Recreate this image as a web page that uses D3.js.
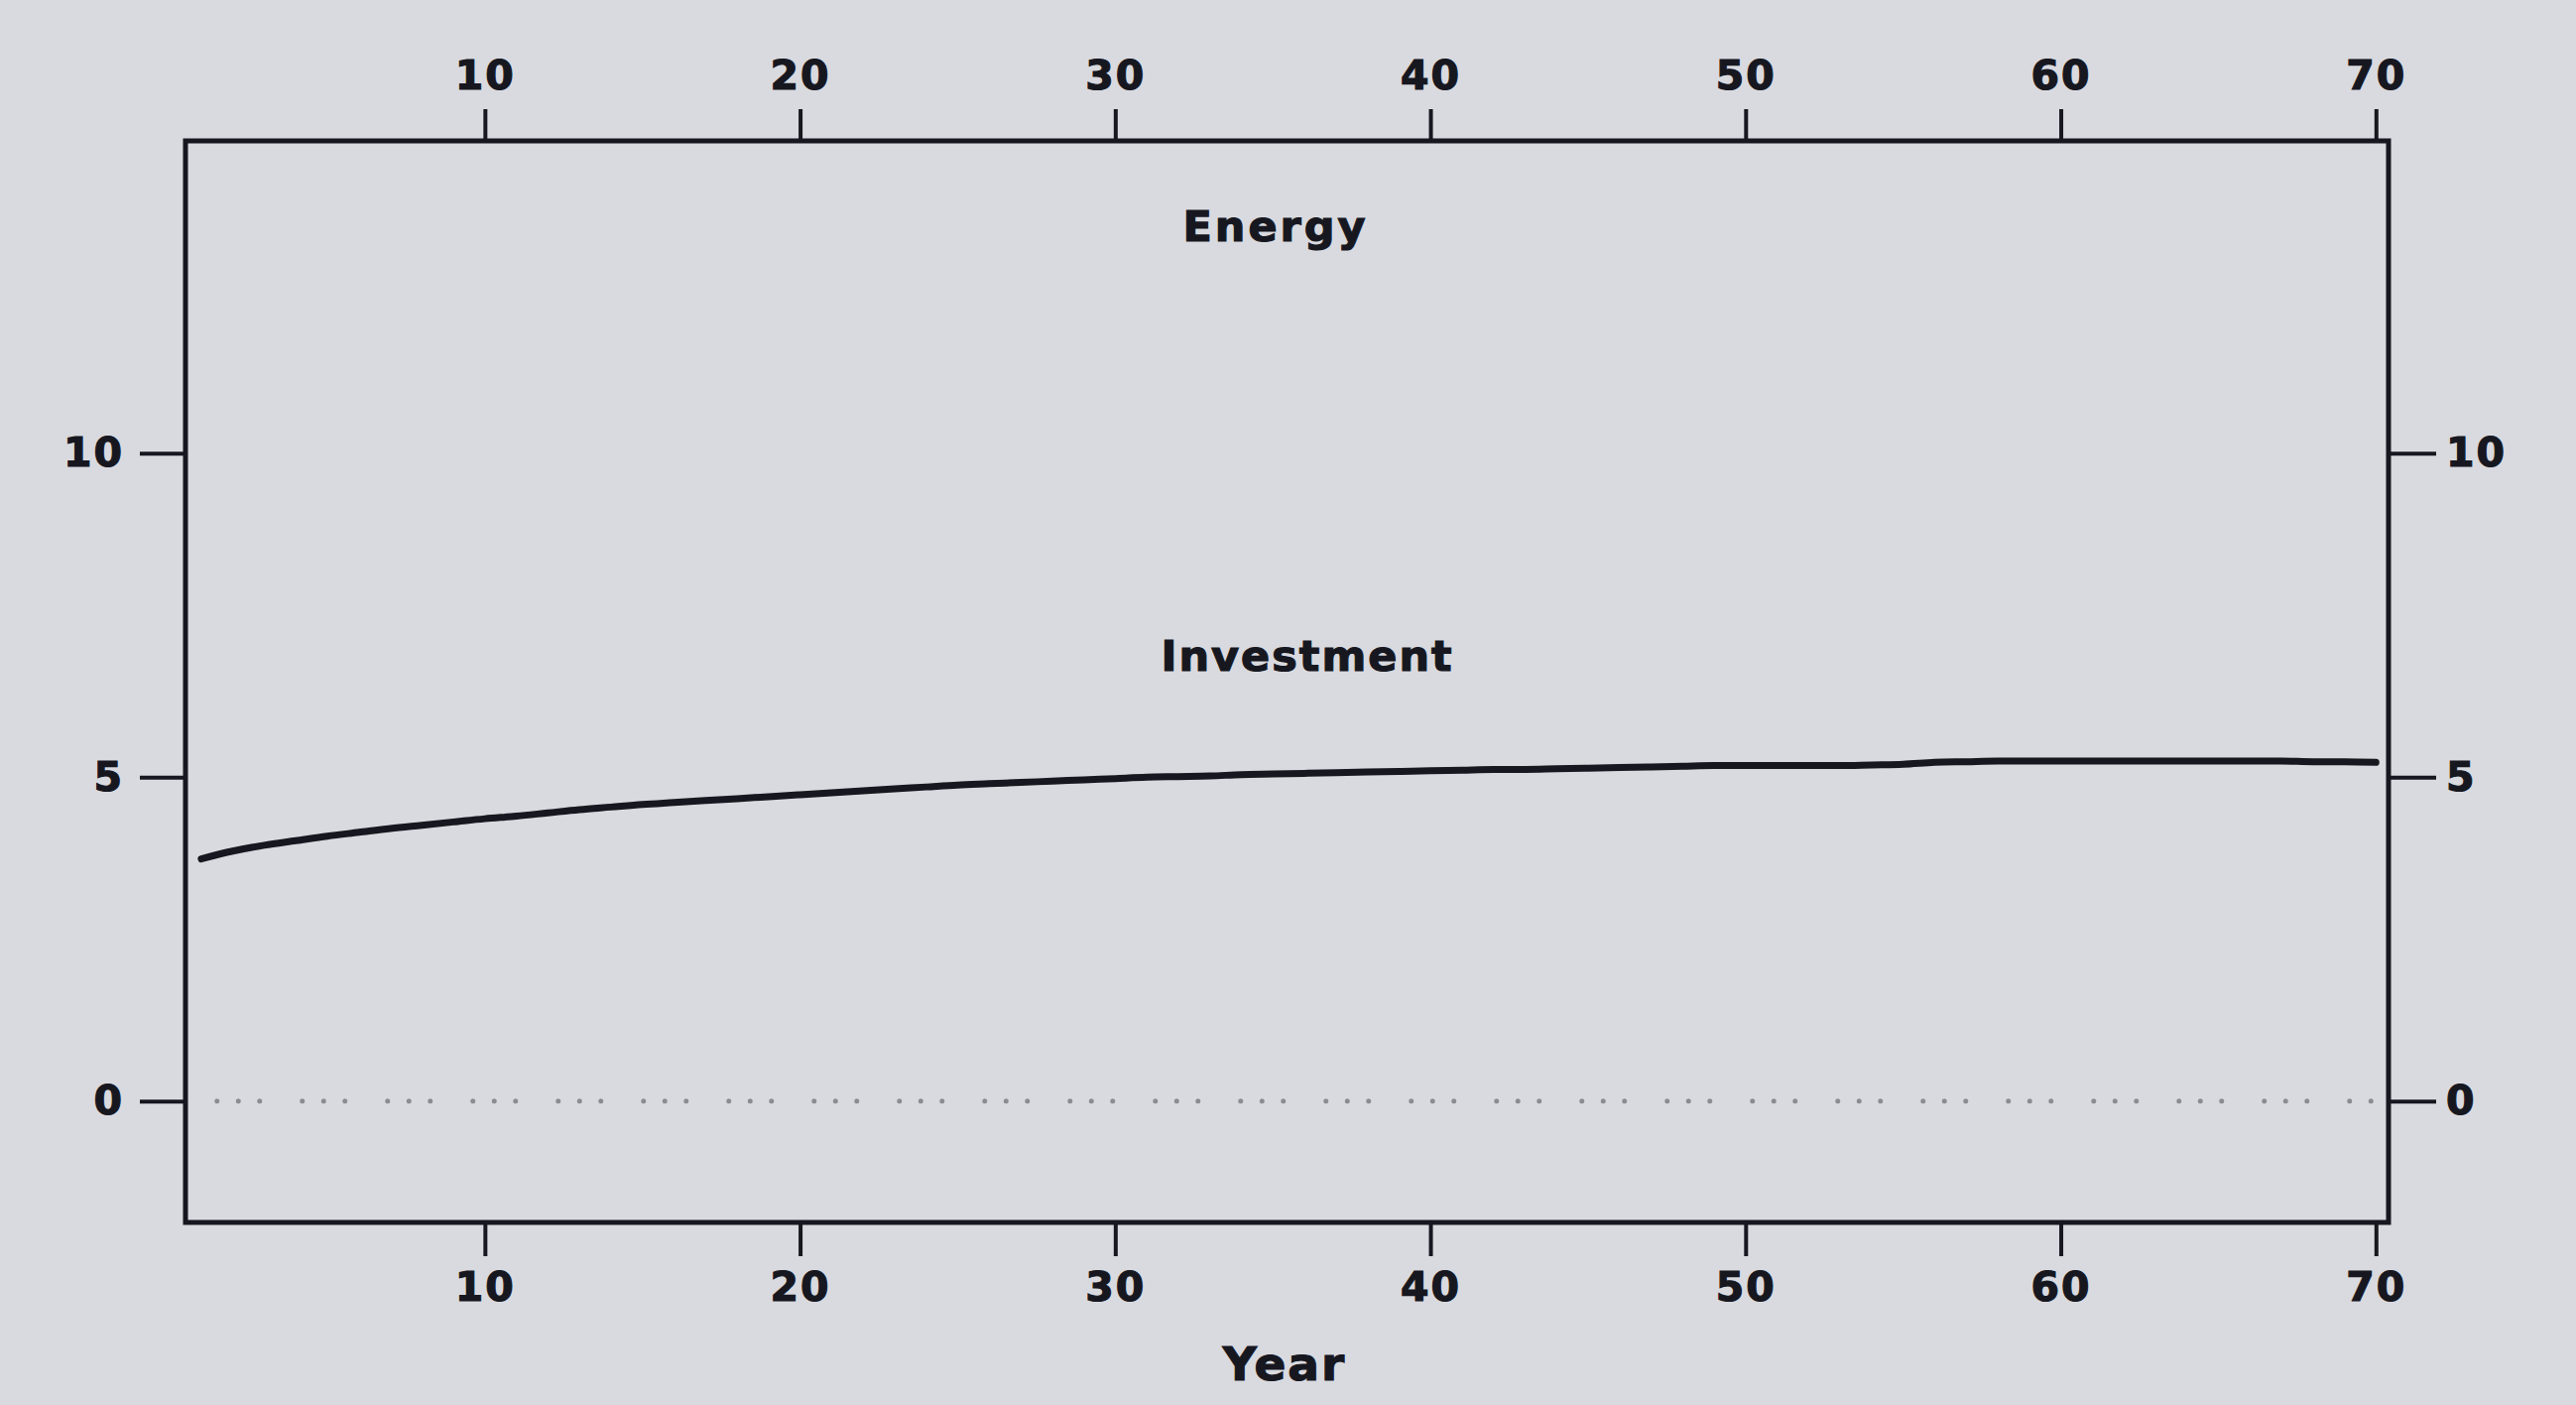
<!DOCTYPE html>
<html>
<head>
<meta charset="utf-8">
<script src="https://cdn.jsdelivr.net/npm/d3@7/dist/d3.min.js"></script>
<style>
  html, body { margin: 0; padding: 0; background: #d9dadf; }
  svg { display: block; }
  .tick text, .lbl { font-family: "DejaVu Sans", sans-serif; font-weight: bold; fill: #16171f; stroke: #16171f; stroke-width: 1.2px; }
</style>
</head>
<body>
<svg id="chart" width="2597" height="1416"></svg>
<script>
// ---- data ----
const years = [1,2,3,4,5,6,7,8,9,10,11,12,13,14,15,16,17,18,19,20,21,22,23,24,25,26,27,28,29,30,31,32,33,34,35,36,37,38,39,40,41,42,43,44,45,46,47,48,49,50,51,52,53,54,55,56,57,58,59,60,61,62,63,64,65,66,67,68,69,70];
const investment = [3.74,3.86,3.95,4.02,4.09,4.15,4.21,4.26,4.31,4.36,4.40,4.45,4.50,4.54,4.58,4.61,4.64,4.67,4.70,4.73,4.76,4.79,4.82,4.85,4.88,4.90,4.92,4.94,4.96,4.98,5.00,5.01,5.02,5.04,5.05,5.06,5.07,5.08,5.09,5.10,5.11,5.12,5.12,5.13,5.14,5.15,5.16,5.17,5.18,5.18,5.18,5.18,5.18,5.19,5.20,5.23,5.24,5.25,5.25,5.25,5.25,5.25,5.25,5.25,5.25,5.25,5.25,5.24,5.24,5.23];
const xTicks = [10,20,30,40,50,60,70];
const yTicks = [0,5,10];
const panelTitle = "Energy";
const seriesLabel = "Investment";
const xTitle = "Year";

// ---- layout ----
const L = 187, R = 2408, T = 142, B = 1232;
const svg = d3.select("#chart");
const x = d3.scaleLinear().domain([0.5, 70.4]).range([L, R]);
const y = d3.scaleLinear().domain([-1.87, 14.82]).range([B, T]);
const ink = "#16171f";
const fs = "41px";

function styleAxis(g) {
  g.select(".domain").remove();
  g.selectAll(".tick line").attr("stroke", ink).attr("stroke-width", 4);
  g.selectAll(".tick text").style("font-size", fs).style("letter-spacing", "2px");
}

svg.append("g").attr("transform", `translate(0,${T})`)
  .call(d3.axisTop(x).tickValues(xTicks).tickSize(32).tickPadding(20))
  .call(styleAxis);
svg.append("g").attr("transform", `translate(0,${B})`)
  .call(d3.axisBottom(x).tickValues(xTicks).tickSize(34).tickPadding(16))
  .call(styleAxis);
svg.append("g").attr("transform", `translate(${L},0)`)
  .call(d3.axisLeft(y).tickValues(yTicks).tickSize(46).tickPadding(16))
  .call(styleAxis);
svg.append("g").attr("transform", `translate(${R},0)`)
  .call(d3.axisRight(y).tickValues(yTicks).tickSize(48).tickPadding(10))
  .call(styleAxis);

// zero reference (dotted, in groups of three)
svg.append("line")
  .attr("x1", x(1.5)).attr("x2", x(70))
  .attr("y1", y(0)).attr("y2", y(0))
  .attr("stroke", "#8a8c92").attr("stroke-width", 5)
  .attr("stroke-linecap", "round")
  .attr("stroke-dasharray", "0,21.5,0,21.5,0,43");

// frame
svg.append("rect")
  .attr("x", L).attr("y", T).attr("width", R - L).attr("height", B - T)
  .attr("fill", "none").attr("stroke", ink).attr("stroke-width", 5);

// series line
const line = d3.line().x((d, i) => x(years[i])).y(d => y(d)).curve(d3.curveMonotoneX);
svg.append("path")
  .datum(investment)
  .attr("d", line)
  .attr("fill", "none").attr("stroke", ink).attr("stroke-width", 7)
  .attr("stroke-linecap", "round");

// labels
svg.append("text").attr("class", "lbl")
  .attr("x", 1286).attr("y", 243).attr("text-anchor", "middle")
  .style("font-size", "43px").style("letter-spacing", "3px")
  .text(panelTitle);
svg.append("text").attr("class", "lbl")
  .attr("x", 1318).attr("y", 676).attr("text-anchor", "middle")
  .style("font-size", "43px").style("letter-spacing", "2px")
  .text(seriesLabel);
svg.append("text").attr("class", "lbl")
  .attr("x", 1295).attr("y", 1391).attr("text-anchor", "middle")
  .style("font-size", "47px").style("letter-spacing", "2px")
  .text(xTitle);
</script>
</body>
</html>
